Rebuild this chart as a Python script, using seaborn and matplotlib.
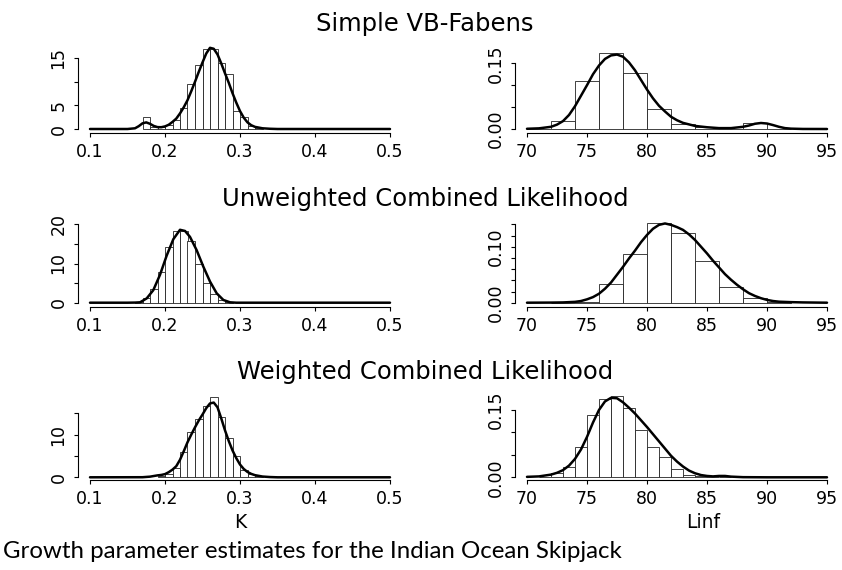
import matplotlib
matplotlib.use("Agg")
import matplotlib.pyplot as plt
import seaborn as sns
import numpy as np

# ---------------- data ----------------
titles = ["Simple VB-Fabens", "Unweighted Combined Likelihood", "Weighted Combined Likelihood"]
caption = "Growth parameter estimates for the Indian Ocean Skipjack"
k_ticks = [0.1, 0.2, 0.3, 0.4, 0.5]
k_ticklabels = ["0.1", "0.2", "0.3", "0.4", "0.5"]
linf_ticks = [70, 75, 80, 85, 90, 95]
linf_ticklabels = ["70", "75", "80", "85", "90", "95"]

# Row 1: Simple VB-Fabens
k1_edges = [0.17, 0.18, 0.19, 0.20, 0.21, 0.22, 0.23, 0.24, 0.25, 0.26, 0.27, 0.28, 0.29, 0.30, 0.31, 0.32, 0.33]
k1_heights = [2.5, 0.4, 0.4, 0.85, 1.9, 4.4, 9.5, 13.6, 17.0, 17.0, 14.0, 11.65, 3.9, 2.6, 0.64, 0.2]
k1_curve_x = [0.10, 0.15, 0.16, 0.165, 0.17, 0.175, 0.18, 0.185, 0.19, 0.195, 0.20, 0.205, 0.21, 0.215,
              0.22, 0.225, 0.23, 0.235, 0.24, 0.245, 0.25, 0.255, 0.26, 0.265, 0.27, 0.275, 0.28, 0.285,
              0.29, 0.295, 0.30, 0.305, 0.31, 0.315, 0.32, 0.33, 0.34, 0.35, 0.50]
k1_curve_y = [0.0, 0.0, 0.15, 0.6, 1.2, 1.4, 1.1, 0.65, 0.4, 0.38, 0.55, 0.9, 1.5, 2.2,
              3.3, 4.6, 6.1, 8.0, 10.0, 12.1, 14.1, 16.0, 17.2, 17.0, 15.8, 13.9, 11.8, 9.8,
              7.6, 5.6, 3.8, 2.4, 1.4, 0.8, 0.45, 0.15, 0.05, 0.0, 0.0]
l1_edges = [70, 72, 74, 76, 78, 80, 82, 84, 86, 88, 90, 92]
l1_heights = [0.001, 0.019, 0.110, 0.174, 0.1286, 0.045, 0.012, 0.004, 0.0, 0.014, 0.0]
l1_curve_x = [70, 71, 72, 72.5, 73, 73.5, 74, 74.5, 75, 75.5, 76, 76.5, 77, 77.5, 78, 78.5, 79, 79.5,
              80, 80.5, 81, 81.5, 82, 82.5, 83, 84, 85, 86, 87, 88, 88.5, 89, 89.5, 90, 90.5, 91,
              91.5, 92, 93, 95]
l1_curve_y = [0.0005, 0.0015, 0.005, 0.01, 0.018, 0.032, 0.052, 0.076, 0.100, 0.125, 0.145, 0.160,
              0.168, 0.170, 0.165, 0.152, 0.134, 0.112, 0.090, 0.070, 0.053, 0.040, 0.028, 0.020,
              0.014, 0.007, 0.004, 0.002, 0.002, 0.005, 0.008, 0.012, 0.0137, 0.0125, 0.009, 0.005,
              0.002, 0.0008, 0.0001, 0.0]

# Row 2: Unweighted Combined Likelihood
k2_edges = [0.16, 0.17, 0.18, 0.19, 0.20, 0.21, 0.22, 0.23, 0.24, 0.25, 0.26, 0.27, 0.28, 0.29]
k2_heights = [0.3, 1.1, 3.5, 7.9, 14.1, 18.4, 18.4, 15.7, 10.0, 5.0, 2.2, 0.6, 0.2]
k2_curve_x = [0.10, 0.15, 0.16, 0.1667, 0.1756, 0.1844, 0.1933, 0.2022, 0.2111, 0.22, 0.2267,
              0.2333, 0.2422, 0.2511, 0.26, 0.2689, 0.2778, 0.2867, 0.295, 0.50]
k2_curve_y = [0.0, 0.0, 0.03, 0.1, 1.1, 3.2, 7.1, 12.0, 16.2, 18.6, 18.3,
              16.8, 13.4, 9.2, 5.4, 2.4, 0.7, 0.1, 0.0, 0.0]
l2_edges = [72, 74, 76, 78, 80, 82, 84, 86, 88, 90, 92]
l2_heights = [0.0003, 0.002, 0.033, 0.087, 0.142, 0.124, 0.0745, 0.028, 0.008, 0.0005]
l2_curve_x = [70, 72, 73, 74, 74.5, 75, 75.5, 76, 76.5, 77, 77.5, 78, 78.5, 79, 79.5, 80, 80.5, 81,
              81.5, 82, 82.5, 83, 83.5, 84, 84.5, 85, 85.5, 86, 86.5, 87, 87.5, 88, 88.5, 89, 89.5,
              90, 90.5, 91, 92, 93, 95]
l2_curve_y = [0.0, 0.0002, 0.0005, 0.0015, 0.003, 0.006, 0.010, 0.016, 0.025, 0.036, 0.050, 0.064,
              0.079, 0.093, 0.108, 0.121, 0.132, 0.139, 0.1415, 0.139, 0.135, 0.130, 0.122, 0.112,
              0.100, 0.088, 0.075, 0.063, 0.051, 0.041, 0.032, 0.024, 0.017, 0.012, 0.008, 0.005,
              0.003, 0.0018, 0.001, 0.0005, 0.0]

# Row 3: Weighted Combined Likelihood
k3_edges = [0.19, 0.20, 0.21, 0.22, 0.23, 0.24, 0.25, 0.26, 0.27, 0.28, 0.29, 0.30, 0.31, 0.32, 0.33]
k3_heights = [0.2, 0.85, 2.26, 6.0, 10.5, 13.6, 16.8, 18.9, 14.2, 9.1, 5.1, 1.7, 0.7, 0.2]
k3_curve_x = [0.10, 0.17, 0.18, 0.185, 0.19, 0.195, 0.20, 0.205, 0.21, 0.215, 0.22, 0.225, 0.23,
              0.235, 0.24, 0.245, 0.25, 0.255, 0.26, 0.265, 0.27, 0.275, 0.28, 0.285, 0.29, 0.295,
              0.30, 0.305, 0.31, 0.315, 0.32, 0.33, 0.34, 0.35, 0.50]
k3_curve_y = [0.0, 0.02, 0.15, 0.3, 0.45, 0.55, 0.75, 1.2, 1.8, 2.6, 4.1, 6.1, 8.2,
              10.0, 11.7, 13.3, 14.7, 16.2, 17.3, 17.5, 16.4, 13.8, 11.0, 8.5, 6.3, 4.5,
              3.0, 1.95, 1.25, 0.8, 0.5, 0.18, 0.06, 0.0, 0.0]
l3_edges = [71, 72, 73, 74, 75, 76, 77, 78, 79, 80, 81, 82, 83, 84, 85, 86, 87]
l3_heights = [0.001, 0.0104, 0.023, 0.068, 0.139, 0.1745, 0.18, 0.155, 0.105, 0.068, 0.046, 0.019,
              0.005, 0.002, 0.001, 0.001]
l3_curve_x = [70, 71, 71.5, 72, 72.5, 73, 73.5, 74, 74.5, 75, 75.5, 76, 76.5, 77, 77.5, 78, 78.5, 79,
              79.5, 80, 80.5, 81, 81.5, 82, 82.5, 83, 83.5, 84, 84.5, 85, 85.5, 86, 86.5, 87, 88, 90, 95]
l3_curve_y = [0.001, 0.002, 0.004, 0.006, 0.010, 0.016, 0.026, 0.041, 0.062, 0.090, 0.122, 0.150,
              0.169, 0.177, 0.176, 0.167, 0.155, 0.142, 0.127, 0.112, 0.096, 0.080, 0.064, 0.048,
              0.035, 0.024, 0.015, 0.009, 0.005, 0.003, 0.002, 0.003, 0.003, 0.0015, 0.0003, 0.0, 0.0]

k1_yticks, k1_ylabels = [0, 5, 10, 15], ["0", "5", "", "15"]
l1_yticks, l1_ylabels = [0, 0.05, 0.10, 0.15], ["0.00", "", "", "0.15"]
k2_yticks, k2_ylabels = [0, 5, 10, 15, 20], ["0", "", "10", "", "20"]
l2_yticks = [0, 0.02, 0.04, 0.06, 0.08, 0.10, 0.12, 0.14]
l2_ylabels = ["0.00", "", "", "", "", "0.10", "", ""]
k3_yticks, k3_ylabels = [0, 5, 10, 15], ["0", "", "10", ""]
l3_yticks, l3_ylabels = [0, 0.05, 0.10, 0.15], ["0.00", "", "", "0.15"]

# ---------------- layout ----------------
sns.set_style("ticks")
plt.rcParams["font.family"] = ["DejaVu Sans"]
W, H = 842, 570
fig = plt.figure(figsize=(W / 100, H / 100), dpi=100)

AX_H = 100  # axes height in px
TICK_FS = 12.5


def panel(left_px, axis_px, zero_px, px_per_unit, xlim, edges, heights, cx, cy,
          xticks, xticklabels, yticks, yticklabels):
    width_px = (xlim[1] - xlim[0]) * (12 if xlim[0] > 10 else 750)
    ax = fig.add_axes([left_px / W, 1 - axis_px / H, width_px / W, AX_H / H])
    ax.patch.set_alpha(0)
    centers = [(edges[i] + edges[i + 1]) / 2 for i in range(len(heights))]
    sns.histplot(x=centers, weights=heights, bins=edges, stat="count", ax=ax,
                 color="white", edgecolor="#222222", linewidth=0.6, alpha=1.0)
    sns.lineplot(x=cx, y=cy, ax=ax, color="black", linewidth=1.8, sort=False)
    ax.set_xlim(*xlim)
    ybot = -(axis_px - zero_px) / px_per_unit
    ytop = (zero_px - (axis_px - AX_H)) / px_per_unit
    ax.set_ylim(ybot, ytop)
    ax.set_xticks(xticks)
    ax.set_xticklabels(xticklabels)
    ax.set_yticks(yticks)
    ax.set_yticklabels(yticklabels, rotation=90, va="center")
    ax.set_xlabel("")
    ax.set_ylabel("")
    for s in ("top", "right"):
        ax.spines[s].set_visible(False)
    ax.spines["bottom"].set_bounds(xticks[0], xticks[-1])
    ax.spines["left"].set_bounds(yticks[0], yticks[-1])
    for s in ("bottom", "left"):
        ax.spines[s].set_linewidth(0.8)
        ax.spines[s].set_color("black")
    ax.tick_params(axis="x", length=3, width=0.8, pad=4.2, labelsize=TICK_FS, colors="black")
    ax.tick_params(axis="y", length=3, width=0.8, pad=4.5, labelsize=TICK_FS, colors="black")
    return ax


rows = [
    (133.3, 129.0, 4.72, 438.0, k1_edges, k1_heights, k1_curve_x, k1_curve_y, k1_yticks, k1_ylabels,
     l1_edges, l1_heights, l1_curve_x, l1_curve_y, l1_yticks, l1_ylabels),
    (307.3, 302.7, 3.92, 560.0, k2_edges, k2_heights, k2_curve_x, k2_curve_y, k2_yticks, k2_ylabels,
     l2_edges, l2_heights, l2_curve_x, l2_curve_y, l2_yticks, l2_ylabels),
    (480.3, 477.3, 4.27, 449.0, k3_edges, k3_heights, k3_curve_x, k3_curve_y, k3_yticks, k3_ylabels,
     l3_edges, l3_heights, l3_curve_x, l3_curve_y, l3_yticks, l3_ylabels),
]

for (axis_px, zero_px, sk, sl, ke, kh, kx, ky, kyt, kyl, le, lh, lx, ly, lyt, lyl) in rows:
    panel(78, axis_px, zero_px, sk, (0.084, 0.516), ke, kh, kx, ky, k_ticks, k_ticklabels, kyt, kyl)
    panel(515, axis_px, zero_px, sl, (69, 96), le, lh, lx, ly, linf_ticks, linf_ticklabels, lyt, lyl)

title_y = [24, 199, 372]
for t, y in zip(titles, title_y):
    fig.text(425 / W, 1 - y / H, t, ha="center", va="center", fontsize=17.5, color="black")

fig.text(240 / W, 1 - 528 / H, "K", ha="center", va="baseline", fontsize=13.5, color="black")
fig.text(703 / W, 1 - 528 / H, "Linf", ha="center", va="baseline", fontsize=13.5, color="black")
fig.text(3 / W, 1 - 551 / H, caption, ha="left", va="center", fontsize=17.3,
         family=["Lato", "DejaVu Sans"], color="black")

fig.savefig("out.png", dpi=100)
